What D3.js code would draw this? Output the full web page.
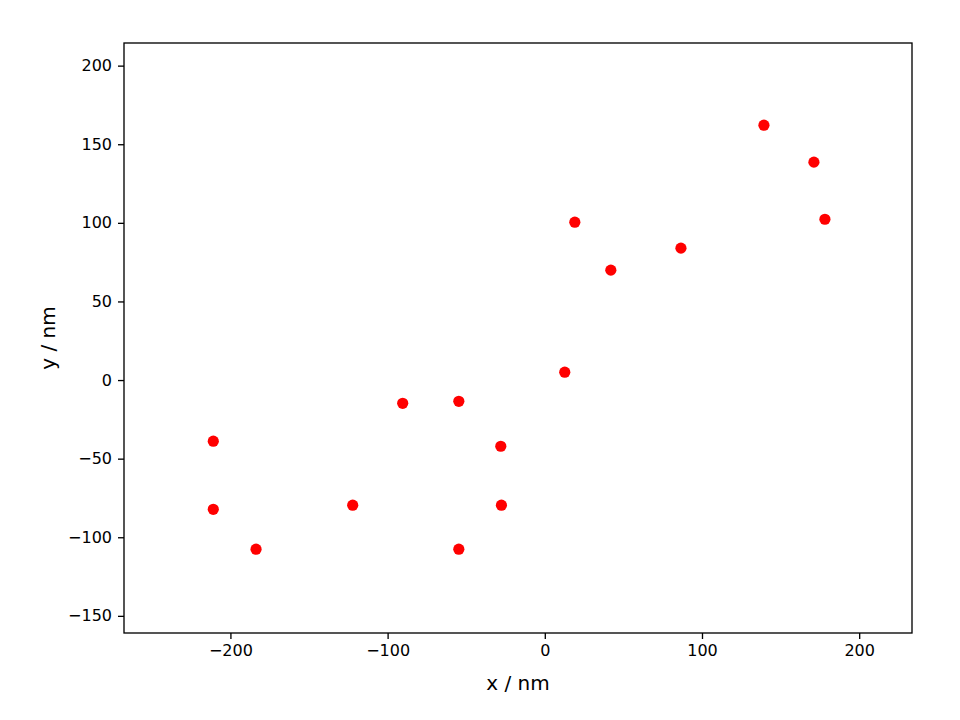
<!DOCTYPE html>
<html>
<head>
<meta charset="utf-8">
<script src="https://cdn.jsdelivr.net/npm/d3@7"></script>
<style>
  body { margin: 0; background: #fff; overflow: hidden; }
  svg { display: block; }
  text { font-family: "DejaVu Sans", sans-serif; }
  .tick text { font-size: 16px; fill: #000; }
  .tick line { stroke: #000; stroke-width: 1.33; }
  .axis-label { font-size: 20px; fill: #000; }
</style>
</head>
<body>
<svg></svg>
<script>
const xValues = [139.4, 171.2, 178.2, 19.1, 42.0, 86.6, 12.7, -90.4, -54.7, -28.0, -27.6, -54.7, -122.2, -183.7, -210.9, -210.9];
const yValues = [162.1, 138.6, 102.3, 100.4, 69.9, 83.9, 5.0, -14.8, -13.5, -42.1, -79.6, -107.6, -79.6, -107.6, -38.9, -82.2];
const xTicks = [-200, -100, 0, 100, 200];
const yTicks = [-150, -100, -50, 0, 50, 100, 150, 200];

const width = 960, height = 720;
const margin = {top: 43, right: 48, bottom: 87, left: 124};
const innerWidth = width - margin.left - margin.right;
const innerHeight = height - margin.top - margin.bottom;

const svg = d3.select('svg')
  .attr('width', width)
  .attr('height', height);

const data = xValues.map((x, i) => ({x, y: yValues[i]}));

const xScale = d3.scaleLinear()
  .domain([-267.7, 233.6])
  .range([0, innerWidth]);

const yScale = d3.scaleLinear()
  .domain([-160.9, 214.4])
  .range([innerHeight, 0]);

const g = svg.append('g')
  .attr('transform', `translate(${margin.left},${margin.top})`);

g.selectAll('circle').data(data)
  .enter().append('circle')
    .attr('cx', d => xScale(d.x))
    .attr('cy', d => yScale(d.y))
    .attr('r', 5.6)
    .attr('fill', '#ff0000');

const xAxisG = g.append('g')
  .attr('transform', `translate(0,${innerHeight})`)
  .call(d3.axisBottom(xScale).tickValues(xTicks).tickSize(6).tickPadding(6));
xAxisG.select('.domain').remove();

const yAxisG = g.append('g')
  .call(d3.axisLeft(yScale).tickValues(yTicks).tickSize(6).tickPadding(6));
yAxisG.select('.domain').remove();

g.append('rect')
  .attr('width', innerWidth)
  .attr('height', innerHeight)
  .attr('fill', 'none')
  .attr('stroke', '#000')
  .attr('stroke-width', 1.33);

g.append('text')
  .attr('class', 'axis-label')
  .attr('x', innerWidth / 2)
  .attr('y', innerHeight + 50)
  .attr('text-anchor', 'middle')
  .attr('dy', '0.35em')
  .text('x / nm');

g.append('text')
  .attr('class', 'axis-label')
  .attr('transform', `translate(${48 - margin.left},${innerHeight / 2}) rotate(-90)`)
  .attr('text-anchor', 'middle')
  .attr('dy', '0.35em')
  .text('y / nm');
</script>
</body>
</html>
